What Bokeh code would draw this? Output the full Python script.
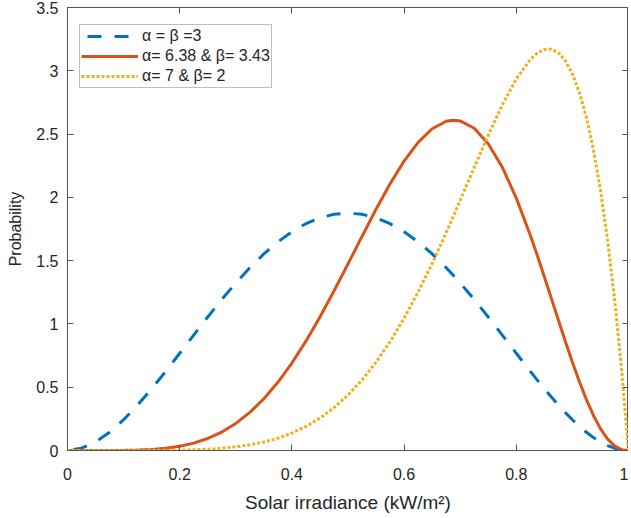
from bokeh.plotting import figure
from bokeh.models import Range1d, LinearAxis, FixedTicker
from bokeh.embed import file_html
from bokeh.resources import INLINE

# ---- data ----
x = [0, 0.025, 0.05, 0.075, 0.1, 0.125, 0.15, 0.175, 0.2, 0.225, 0.25, 0.275,
     0.3, 0.325, 0.35, 0.375, 0.4, 0.425, 0.45, 0.475, 0.5, 0.525, 0.55, 0.575,
     0.6, 0.625, 0.65, 0.675, 0.6875, 0.7, 0.725, 0.75, 0.775, 0.8, 0.825, 0.8375,
     0.85, 0.8625, 0.875, 0.8875, 0.9, 0.9125, 0.925, 0.9375, 0.95, 0.9625, 0.975,
     0.9875, 1.0]

y_a3_b3 = [0, 0.018, 0.068, 0.144, 0.243, 0.359, 0.488, 0.625, 0.768, 0.912, 1.055, 1.193,
           1.323, 1.444, 1.553, 1.648, 1.728, 1.792, 1.838, 1.866, 1.875, 1.866, 1.838, 1.792,
           1.728, 1.648, 1.553, 1.444, 1.385, 1.323, 1.193, 1.055, 0.912, 0.768, 0.625, 0.556,
           0.488, 0.422, 0.359, 0.299, 0.243, 0.191, 0.144, 0.103, 0.068, 0.039, 0.018,
           0.005, 0]

y_a638_b343 = [0, 0.0, 0.0, 0.0, 0.001, 0.003, 0.008, 0.018, 0.033, 0.058, 0.095, 0.146,
               0.214, 0.301, 0.409, 0.539, 0.691, 0.864, 1.055, 1.260, 1.474, 1.692, 1.906, 2.107,
               2.286, 2.434, 2.542, 2.601, 2.610, 2.604, 2.546, 2.424, 2.238, 1.994, 1.701, 1.541,
               1.373, 1.202, 1.031, 0.861, 0.697, 0.543, 0.402, 0.277, 0.173, 0.092, 0.037,
               0.007, 0]

y_a7_b2 = [0, 0.0, 0.0, 0.0, 0.0, 0.0, 0.001, 0.001, 0.003, 0.006, 0.010, 0.018,
           0.029, 0.045, 0.067, 0.097, 0.138, 0.190, 0.256, 0.338, 0.438, 0.557, 0.698, 0.860,
           1.045, 1.252, 1.478, 1.721, 1.848, 1.977, 2.236, 2.492, 2.730, 2.936, 3.090, 3.140,
           3.168, 3.170, 3.142, 3.079, 2.976, 2.829, 2.631, 2.376, 2.058, 1.670, 1.203,
           0.649, 0]

series_labels = ["α = β =3", "α= 6.38 & β= 3.43", "α= 7 & β= 2"]

x_ticks = [0, 0.2, 0.4, 0.6, 0.8, 1.0]
x_tick_labels = ["0", "0.2", "0.4", "0.6", "0.8", "1"]
y_ticks = [0, 0.5, 1.0, 1.5, 2.0, 2.5, 3.0, 3.5]
y_tick_labels = ["0", "0.5", "1", "1.5", "2", "2.5", "3", "3.5"]

x_title = "Solar irradiance (kW/m²)"
y_title = "Probability"

# ---- styling ----
FONT = "Liberation Sans"
TXT = "#262626"
AX = "#555555"
FW, FH = 561, 443

p = figure(frame_width=FW, frame_height=FH,
           x_range=Range1d(0, 1), y_range=Range1d(0, 3.5),
           output_backend="svg", toolbar_location=None,
           min_border_left=67, min_border_top=7, min_border_right=0, min_border_bottom=10,
           background_fill_color="white", border_fill_color="white")

p.xgrid.visible = False
p.ygrid.visible = False
p.outline_line_color = AX

p.line(x, y_a3_b3, line_color="#0072BD", line_width=3, line_dash="14 13",
       line_dash_offset=21, legend_label=series_labels[0])
p.line(x, y_a638_b343, line_color="#D95319", line_width=3,
       legend_label=series_labels[1])
p.line(x, y_a7_b2, line_color="#EDB120", line_width=3, line_dash="3 2",
       legend_label=series_labels[2])


def style_axis(ax, ticks, labels, show_labels=True):
    ax.ticker = FixedTicker(ticks=ticks)
    ax.major_label_overrides = {t: l for t, l in zip(ticks, labels)}
    ax.minor_tick_line_color = None
    ax.major_tick_in = 6
    ax.major_tick_out = 0
    ax.axis_line_color = AX
    ax.major_tick_line_color = AX
    ax.major_label_text_font = FONT
    ax.major_label_text_color = TXT
    if show_labels:
        ax.major_label_text_font_size = "16px"
    else:
        ax.major_label_text_font_size = "0px"
        ax.major_label_standoff = 0


style_axis(p.xaxis[0], x_ticks, x_tick_labels)
style_axis(p.yaxis[0], y_ticks, y_tick_labels)
p.xaxis[0].major_label_standoff = 17
p.yaxis[0].major_label_standoff = 9

p.xaxis[0].axis_label = x_title
p.yaxis[0].axis_label = y_title
for ax in (p.xaxis[0], p.yaxis[0]):
    ax.axis_label_text_font = FONT
    ax.axis_label_text_font_style = "normal"
    ax.axis_label_text_color = TXT
p.xaxis[0].axis_label_text_font_size = "19px"
p.yaxis[0].axis_label_text_font_size = "16px"
p.xaxis[0].axis_label_standoff = 9
p.yaxis[0].axis_label_standoff = 9

top = LinearAxis()
right = LinearAxis()
style_axis(top, x_ticks, ["" for _ in x_ticks], show_labels=False)
style_axis(right, y_ticks, ["" for _ in y_ticks], show_labels=False)
p.add_layout(top, "above")
p.add_layout(right, "right")

leg = p.legend[0]
leg.margin = 0
leg.padding = 1
leg.spacing = 0
leg.glyph_width = 57
leg.glyph_height = 20
leg.label_height = 20
leg.label_standoff = 4
leg.label_text_font = FONT
leg.label_text_font_size = "16px"
leg.label_text_color = TXT
leg.border_line_color = "#808080"
leg.border_line_width = 1
leg.background_fill_color = "white"
leg.background_fill_alpha = 1.0
leg.location = (12, FH - 13 - 68)

open("out.html", "w").write(file_html(p, INLINE))
